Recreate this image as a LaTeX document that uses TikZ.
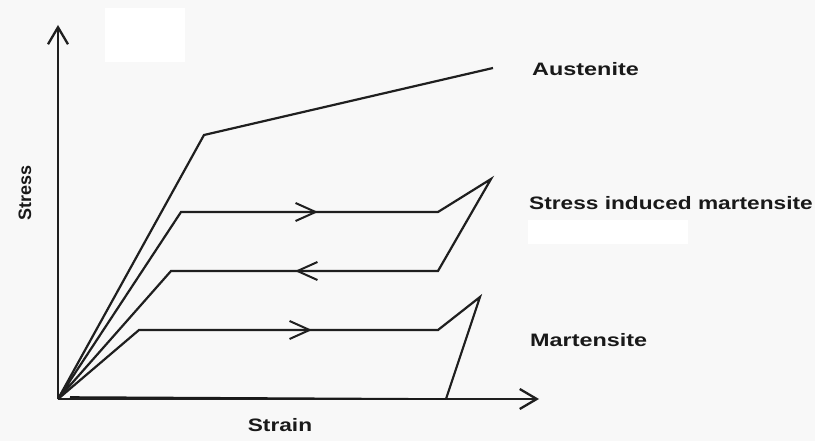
\documentclass[tikz,border=0pt]{standalone}
\usepackage{fontspec}
\setmainfont{Liberation Sans}
\usetikzlibrary{arrows.meta}
\definecolor{bgray}{HTML}{F8F8F8}
\tikzset{
  curve/.style={line width=2.2pt, line join=miter, color=black!88},
  axis/.style={line width=2.5pt, color=black!88, -{Straight Barb[length=17pt,width=20pt,line width=2.3pt]}},
  midarrow/.style={line width=2.2pt, color=black!88, -{Straight Barb[length=20pt,width=18pt,line width=2pt]}},
  lbl/.style={font=\bfseries\fontsize{18}{20}\selectfont, text=black!90, inner sep=0pt, anchor=west},
}
\begin{document}
\begin{tikzpicture}[x=1pt,y=-1pt]
\useasboundingbox (0,0) rectangle (815,441);
\fill[bgray] (0,0) rectangle (815,441);
\fill[white] (105,8) rectangle (185,62);
\fill[white] (528,220) rectangle (688,244);

% points
\coordinate (O) at (58,399);
\coordinate (ytop) at (58,25);
\coordinate (xend) at (539,399);
\coordinate (A1) at (204,135);
\coordinate (A2) at (493,68);
\coordinate (S1) at (181,212);
\coordinate (S2) at (438,212);
\coordinate (S3) at (491,179);
\coordinate (S4) at (438,271);
\coordinate (S5) at (171,271);
\coordinate (Sr) at (318,212);
\coordinate (Sl) at (295,271);
\coordinate (M1) at (139,330);
\coordinate (M2) at (438,330);
\coordinate (M3) at (480,297);
\coordinate (M4) at (446,399);
\coordinate (Mr) at (312,330);
\coordinate (R1) at (70,397);

% axes
\draw[axis] (O) -- (ytop);
\draw[axis] (O) -- (xend);
\draw[line width=1.6pt, black!90] (R1) -- (M4);

% curves
\draw[curve] (O) -- (A1) -- (A2);
\draw[curve] (O) -- (S1) -- (S2) -- (S3) -- (S4) -- (S5) -- cycle;
\draw[curve] (O) -- (M1) -- (M2) -- (M3) -- (M4);

% direction arrows
\draw[midarrow] (S1) -- (Sr);
\draw[midarrow] (S4) -- (Sl);
\draw[midarrow] (M1) -- (Mr);

% labels
\node[lbl] (la) at (532,69) {\scalebox{1.3}[1]{Austenite}};
\node[lbl] (ls) at (529,203) {\scalebox{1.26}[1]{Stress induced martensite}};
\node[lbl] (lm) at (530,340) {\scalebox{1.3}[1]{Martensite}};
\node[lbl, anchor=center] (lx) at (280,425) {\scalebox{1.26}[1]{Strain}};
\node[lbl, anchor=center, rotate=90] (ly) at (25,193) {Stress};
\end{tikzpicture}
\end{document}
